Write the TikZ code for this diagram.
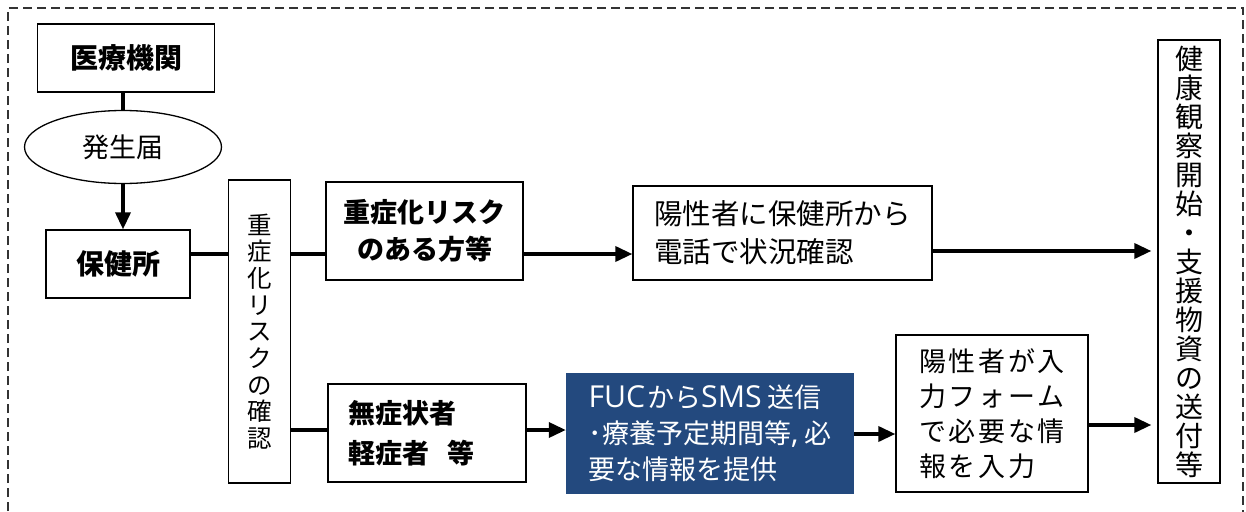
\documentclass[tikz,border=0pt]{standalone}
\usepackage{fontspec}
\setmainfont{Noto Sans CJK JP}
\newfontfamily\latinf[Scale=1.12]{Open Sans}
\usetikzlibrary{shapes.geometric,arrows.meta,calc}
\definecolor{navy}{RGB}{35,73,126}
\begin{document}
\begin{tikzpicture}[x=1pt,y=-1pt,
  box/.style={draw,line width=1.3pt,inner sep=0pt,align=center},
  conn/.style={line width=3.5pt},
  arr/.style={line width=3.5pt,-{Triangle[length=17pt,width=15pt]}},
  frame/.style={line width=1.3pt,dash pattern=on 9pt off 5pt,black!80}]
\useasboundingbox (0,0) rectangle (1246,511);
\draw[frame] (8,525) -- (8,8) -- (1243,8) -- (1243,525);

\node[box,minimum width=177pt,minimum height=68pt,font=\bfseries\fontsize{28}{34}\selectfont] (iryo) at (126,58) {医療機関};
\node[draw,ellipse,line width=1.3pt,minimum width=197pt,minimum height=73pt,inner sep=0pt,font=\fontsize{27}{32}\selectfont] (todoke) at (123,147) {発生届};
\node[box,minimum width=144pt,minimum height=68pt,font=\bfseries\fontsize{28}{34}\selectfont] (hoken) at (118,264) {保健所};
\node[box,minimum width=62pt,minimum height=303pt,font=\fontsize{24.5}{26.7}\selectfont] (kakunin) at (259.5,331.5) {重\\症\\化\\リ\\ス\\ク\\の\\確\\認};
\node[box,minimum width=197pt,minimum height=98pt,font=\bfseries\fontsize{27}{37}\selectfont] (juusho) at (424.5,231) {重症化リスク\\のある方等};
\node[box,minimum width=299pt,minimum height=94pt,align=left,font=\fontsize{28.5}{38}\selectfont] (denwa) at (782.5,233) {陽性者に保健所から\\電話で状況確認};
\node[box,minimum width=62pt,minimum height=443pt,font=\fontsize{28}{29}\selectfont] (kenko) at (1189,261.5) {健\\康\\観\\察\\開\\始\\・\\支\\援\\物\\資\\の\\送\\付\\等};
\node[box,minimum width=198pt,minimum height=98pt,align=left,text width=158pt,inner xsep=20pt,font=\bfseries\fontsize{27}{40}\selectfont] (musho) at (427,433) {無症状者\\軽症者\hspace{0.7em}等};
\node[inner sep=0pt,fill=navy,text=white,minimum width=288pt,minimum height=121pt,align=left,font=\fontsize{27}{36}\selectfont] (fuc) at (710,433.5) {{\latinf FUC}\hspace{2pt}から{\latinf SMS} 送信\\･療養予定期間等{\latinf ,} 必\\要な情報を提供};
\node[box,minimum width=192pt,minimum height=157pt,align=left,font=\fontsize{27}{35}\selectfont\addfontfeature{LetterSpace=10}] (nyu) at (992,413.5) {陽性者が入\\力フォーム\\で必要な情\\報を入力};

\coordinate (yA) at (0,254);
\coordinate (yB) at (0,430);
\coordinate (yC) at (0,251);
\coordinate (yD) at (0,434);
\coordinate (yE) at (0,425);

\draw[conn] (iryo.south -| todoke.north) -- (todoke.north);
\draw[arr] (todoke.south) -- (hoken.north -| todoke.south);
\draw[conn] (hoken.east |- yA) -- (kakunin.west |- yA);
\draw[conn] (kakunin.east |- yA) -- (juusho.west |- yA);
\draw[arr] (juusho.east |- yA) -- (denwa.west |- yA);
\draw[arr,shorten >=6pt] (denwa.east |- yC) -- (kenko.west |- yC);
\draw[conn] (kakunin.east |- yB) -- (musho.west |- yB);
\draw[arr] (musho.east |- yB) -- (fuc.west |- yB);
\draw[arr] (fuc.east |- yD) -- (nyu.west |- yD);
\draw[arr,shorten >=6pt] (nyu.east |- yE) -- (kenko.west |- yE);
\end{tikzpicture}
\end{document}
